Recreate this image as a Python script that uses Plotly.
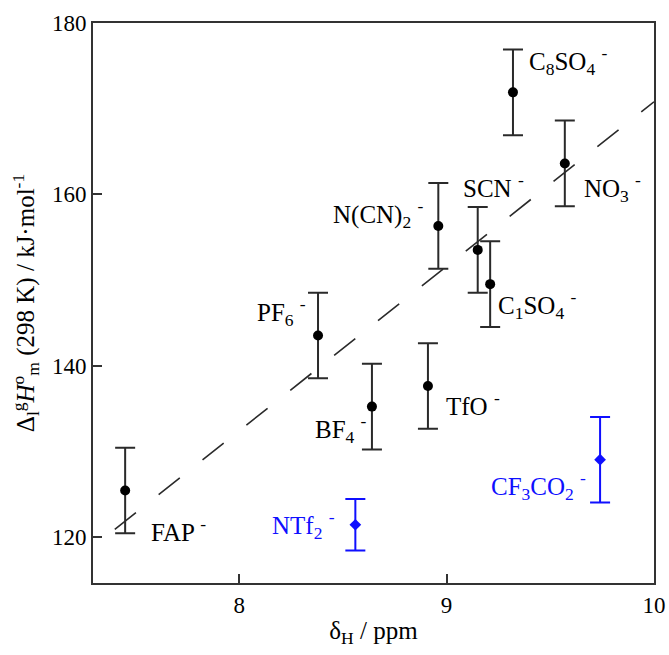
import plotly.graph_objects as go

# Anions on the common trend (black) and the two outliers (blue)
anions = ["FAP", "PF6", "BF4", "TfO", "N(CN)2", "SCN", "C1SO4", "C8SO4", "NO3"]
delta_h = [7.45, 8.38, 8.64, 8.91, 8.96, 9.15, 9.21, 9.32, 9.57]
dH_vap = [125.4, 143.5, 135.2, 137.6, 156.3, 153.5, 149.5, 171.9, 163.6]
dH_err = [5, 5, 5, 5, 5, 5, 5, 5, 5]

outliers = ["NTf2", "CF3CO2"]
delta_h_out = [8.56, 9.74]
dH_vap_out = [121.4, 129.0]
dH_err_out = [3, 5]

# Linear trend through the black points
fit_x = [7.40, 10.0]
fit_y = [120.85, 170.8]

x_ticks = [8, 9, 10]
y_ticks = [120, 140, 160, 180]

labels = {
    "FAP": "FAP <sup>-</sup>",
    "PF6": "PF<sub>6</sub> <sup>-</sup>",
    "BF4": "BF<sub>4</sub> <sup>-</sup>",
    "TfO": "TfO <sup>-</sup>",
    "N(CN)2": "N(CN)<sub>2</sub> <sup>-</sup>",
    "SCN": "SCN <sup>-</sup>",
    "C1SO4": "C<sub>1</sub>SO<sub>4</sub> <sup>-</sup>",
    "C8SO4": "C<sub>8</sub>SO<sub>4</sub> <sup>-</sup>",
    "NO3": "NO<sub>3</sub> <sup>-</sup>",
    "NTf2": "NTf<sub>2</sub> <sup>-</sup>",
    "CF3CO2": "CF<sub>3</sub>CO<sub>2</sub> <sup>-</sup>",
}

# label placement relative to its point: (anchor, x offset px, y offset px)
label_place = {
    "FAP": ("left", 24, -39),
    "PF6": ("right", -10, 24),
    "BF4": ("right", -3, -22),
    "TfO": ("left", 16, -18),
    "N(CN)2": ("right", -13, 12),
    "SCN": ("left", -17, 64),
    "C1SO4": ("left", 6, -21),
    "C8SO4": ("left", 14, 31),
    "NO3": ("left", 17, -25),
    "NTf2": ("right", -18, 0),
    "CF3CO2": ("right", -12, -26),
}

BLACK = "#2a2a2a"
BLUE = "#0f0fff"
FONT = "Liberation Serif, Times New Roman, serif"

fig = go.Figure()

fig.add_trace(go.Scatter(
    x=fit_x, y=fit_y, mode="lines",
    line=dict(color=BLACK, width=1.6, dash="27px,29px"),
    hoverinfo="skip", showlegend=False,
))

fig.add_trace(go.Scatter(
    x=delta_h, y=dH_vap, mode="markers",
    marker=dict(symbol="circle", size=10, color="#000000"),
    error_y=dict(type="data", array=dH_err, visible=True,
                 color=BLACK, thickness=2, width=10),
    showlegend=False,
))

fig.add_trace(go.Scatter(
    x=delta_h_out, y=dH_vap_out, mode="markers",
    marker=dict(symbol="diamond", size=9, color=BLUE),
    error_y=dict(type="data", array=dH_err_out, visible=True,
                 color=BLUE, thickness=2, width=10),
    showlegend=False,
))

for names, xs, ys, col in ((anions, delta_h, dH_vap, "#000000"),
                           (outliers, delta_h_out, dH_vap_out, BLUE)):
    for n, xv, yv in zip(names, xs, ys):
        anchor, dx, dy = label_place[n]
        fig.add_annotation(
            x=xv, y=yv, text=labels[n], showarrow=False,
            xanchor=anchor, yanchor="middle", xshift=dx, yshift=dy,
            font=dict(family=FONT, size=25, color=col),
        )

axis_common = dict(
    showgrid=False, zeroline=False,
    showline=True, linecolor="#333333", linewidth=2, mirror=True,
    ticks="inside", ticklen=9, tickwidth=2, tickcolor="#333333",
    tickfont=dict(family=FONT, size=23, color="#000000"),
)

fig.update_xaxes(
    range=[7.295, 10.0], tickvals=x_ticks,
    title=dict(text="δ<sub>H</sub> / ppm", font=dict(family=FONT, size=25, color="#000000"),
               standoff=5),
    **axis_common,
)
fig.update_yaxes(
    range=[114.6, 180.0], tickvals=y_ticks,
    title=dict(text="Δ<sub>l</sub><sup>g</sup><i>H</i><sup>o</sup><sub>m</sub> (298 K) / kJ·mol<sup>-1</sup>",
               font=dict(family=FONT, size=25, color="#000000"), standoff=10),
    **axis_common,
)

fig.update_layout(
    width=669, height=655,
    margin=dict(l=93, r=15, t=23, b=72, autoexpand=False),
    plot_bgcolor="white", paper_bgcolor="white",
)

fig.write_html("out.html")
